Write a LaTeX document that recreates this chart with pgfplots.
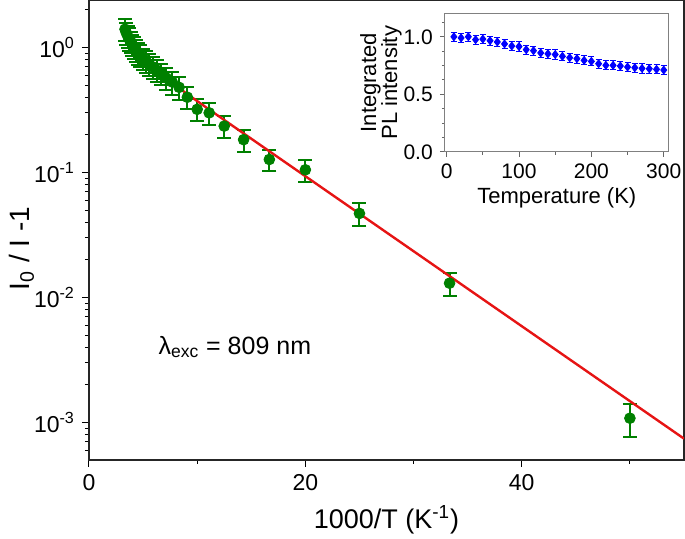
\documentclass[border=0pt]{standalone}
\usepackage{fontspec}
\setmainfont{Liberation Sans}
\usepackage{pgfplots}
\pgfplotsset{compat=1.18}
\definecolor{pgreen}{RGB}{0,128,0}
\definecolor{pred}{RGB}{230,20,20}
\definecolor{pblue}{RGB}{0,0,255}
\begin{document}
\begin{tikzpicture}
\begin{axis}[
 name=main,
 scale only axis, width=297.5pt, height=230pt,
 xmin=0, xmax=55, ymode=log, ymin=5e-4, ymax=2.4,
 xtick={0,20,40}, minor xtick={10,30,50},
 ytick={0.001,0.01,0.1,1},
 yticklabels={10\textsuperscript{-3},10\textsuperscript{-2},10\textsuperscript{-1},10\textsuperscript{0}},
 minor ytick={6e-4,7e-4,8e-4,9e-4,2e-3,3e-3,4e-3,5e-3,6e-3,7e-3,8e-3,9e-3,0.02,0.03,0.04,0.05,0.06,0.07,0.08,0.09,0.2,0.3,0.4,0.5,0.6,0.7,0.8,0.9,2},
 tick align=outside, xtick pos=left, ytick pos=left,
 major tick length=3.5pt, minor tick length=2pt,
 tick style={black, line width=0.5pt},
 axis line style={line width=0.6pt, black!85},
 tick label style={font=\fontsize{11.5}{13}\selectfont},
 /pgf/number format/assume math mode=true,
 xlabel={1000/T (K\textsuperscript{-1})},
 ylabel={I\textsubscript{0} / I -1},
 every axis x label/.style={at={(axis description cs:0.5,-0.13)}, anchor=center, font=\fontsize{13.5}{16}\selectfont},
 every axis y label/.style={at={(axis description cs:-0.113,0.46)}, rotate=90, anchor=center, font=\fontsize{14}{16}\selectfont},
]
\addplot[only marks, mark=*, mark size=2.7pt, color=pgreen,
 error bars/.cd, y dir=both, y explicit,
 error bar style={line width=1pt, pgreen},
 error mark options={rotate=90, mark size=3.5pt, line width=1pt, pgreen}]
 coordinates {
 (3.33,1.40) +- (0,0.28)
 (3.45,1.31) +- (0,0.26)
 (3.57,1.24) +- (0,0.25)
 (3.70,1.18) +- (0,0.24)
 (3.85,1.12) +- (0,0.22)
 (4.00,1.06) +- (0,0.21)
 (4.17,1.01) +- (0,0.20)
 (4.35,0.96) +- (0,0.19)
 (4.55,0.91) +- (0,0.18)
 (4.76,0.87) +- (0,0.17)
 (5.00,0.82) +- (0,0.16)
 (5.26,0.78) +- (0,0.16)
 (5.56,0.74) +- (0,0.15)
 (5.88,0.70) +- (0,0.14)
 (6.25,0.66) +- (0,0.13)
 (6.67,0.62) +- (0,0.12)
 (7.14,0.57) +- (0,0.11)
 (7.69,0.53) +- (0,0.11)
 (8.33,0.48) +- (0,0.10)
 (9.09,0.40) +- (0,0.08)
 (10.0,0.32) +- (0,0.064)
 (11.11,0.30) +- (0,0.06)
 (12.5,0.235) +- (0,0.047)
 (14.29,0.183) +- (0,0.037)
 (16.67,0.127) +- (0,0.025)
 (20.0,0.105) +- (0,0.021)
 (25.0,0.047) +- (0,0.0095)
 (33.33,0.013) +- (0,0.0027)
 (50.0,0.00108) +- (0,0.00032)
 };
\addplot[no marks, color=pred, line width=1.2pt, smooth] coordinates {
 (3.33,1.373) (3.45,1.308) (3.57,1.250) (3.70,1.193) (3.85,1.134) (4.0,1.081)
 (4.17,1.027) (4.35,0.977) (4.55,0.927) (4.76,0.880) (5.0,0.833) (5.5,0.751)
 (6.0,0.684) (7.0,0.578) (8.0,0.497) (9.0,0.4295) (10,0.3727) (12,0.2818)
 (15,0.1862) (20,0.0933) (30,0.02344) (40,0.005888) (50,0.001479) (55,0.000741)
 };
\node[anchor=west, font=\fontsize{12.5}{15}\selectfont] at (rel axis cs:0.105,0.246) {λ\textsubscript{exc} = 809 nm};
\coordinate (insetpos) at (rel axis cs:0.598,0.670);
\coordinate (msw) at (rel axis cs:0,0);
\end{axis}
\begin{axis}[
 at={(insetpos)}, anchor=south west,
 scale only axis, width=112pt, height=69pt,
 xmin=-2.5, xmax=307, ymin=0, ymax=1.2,
 xtick={0,100,200,300}, minor xtick={50,150,250},
 ytick={0,0.5,1.0}, minor ytick={0.125,0.25,0.375,0.625,0.75,0.875,1.125},
 tick align=outside, xtick pos=left, ytick pos=left,
 major tick length=2.5pt, minor tick length=1.5pt,
 tick style={gray!80!black, line width=0.5pt},
 axis line style={gray, line width=0.6pt},
 tick label style={font=\fontsize{10.5}{12}\selectfont},
 /pgf/number format/assume math mode=true,
 yticklabel style={/pgf/number format/.cd, fixed, fixed zerofill, precision=1},
 xlabel={Temperature (K)},
 ylabel={Integrated\\PL intensity},
 every axis x label/.style={at={(axis description cs:0.5,-0.33)}, anchor=center, font=\fontsize{11}{12}\selectfont},
 every axis y label/.style={at={(axis description cs:-0.285,0.5)}, rotate=90, anchor=center, align=center, font=\fontsize{11}{10.5}\selectfont},
]
\addplot[only marks, mark=diamond*, mark size=2pt, color=pblue,
 error bars/.cd, y dir=both, y explicit,
 error bar style={line width=0.5pt, pblue},
 error mark options={rotate=90, mark size=1.5pt, line width=0.5pt, pblue}]
 coordinates {
 (10,1.00) +- (0,0.04) (20,0.99) +- (0,0.04) (30,1.00) +- (0,0.04)
 (40,0.975) +- (0,0.04) (50,0.98) +- (0,0.04) (60,0.966) +- (0,0.04)
 (70,0.955) +- (0,0.04) (80,0.938) +- (0,0.04) (90,0.92) +- (0,0.04)
 (100,0.915) +- (0,0.04) (110,0.888) +- (0,0.04) (120,0.879) +- (0,0.04)
 (130,0.86) +- (0,0.04) (140,0.852) +- (0,0.04) (150,0.846) +- (0,0.04)
 (160,0.83) +- (0,0.04) (170,0.818) +- (0,0.04) (180,0.81) +- (0,0.04)
 (190,0.795) +- (0,0.04) (200,0.786) +- (0,0.04) (210,0.766) +- (0,0.04)
 (220,0.752) +- (0,0.04) (230,0.752) +- (0,0.04) (240,0.746) +- (0,0.04)
 (250,0.737) +- (0,0.04) (260,0.731) +- (0,0.04) (270,0.725) +- (0,0.04)
 (280,0.722) +- (0,0.04) (290,0.717) +- (0,0.04) (300,0.711) +- (0,0.04)
 };
\end{axis}
\pgfresetboundingbox
\path[use as bounding box] (msw) ++(-44.5pt,-39.5pt) rectangle ++(342.5pt,269.5pt);
\end{tikzpicture}
\end{document}
